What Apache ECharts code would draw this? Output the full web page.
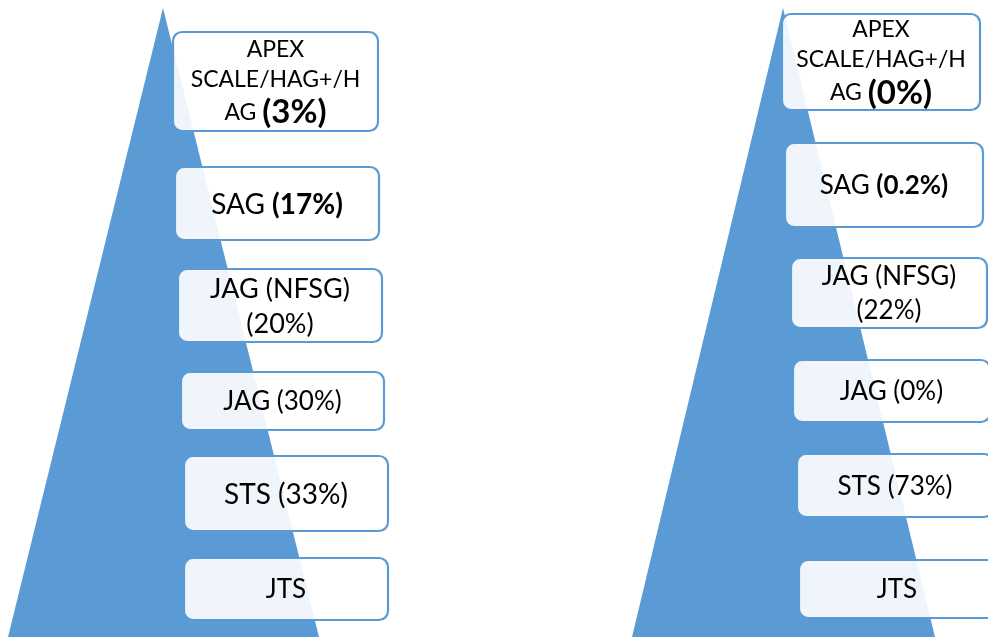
<!DOCTYPE html>
<html>
<head>
<meta charset="utf-8">
<script src="https://cdn.jsdelivr.net/npm/echarts@6/dist/echarts.min.js"></script>
<style>
  html, body { margin: 0; padding: 0; background: #fff; }
  #chart { width: 988px; height: 637px; }
</style>
</head>
<body>
<div id="chart"></div>
<script>
// tiers, top of the pyramid first
const tierNames = ['APEX\nSCALE/HAG+/H\nAG', 'SAG', 'JAG (NFSG)\n', 'JAG', 'STS', 'JTS'];
// share per tier, left pyramid and right pyramid (null = no figure shown)
const leftShares = [3, 17, 20, 30, 33, null];
const rightShares = [0, 0.2, 22, 0, 73, null];

// how the share is written in each tier
const shareStyle = ['big', 'bold', 'n', 'n', 'n', 'n'];
// text size per box (the boxes were auto-fitted)
const fontSizes = [
    [23, 28, 27, 26, 28, 26],
    [23, 26, 26, 26, 26, 26]
];

// layout in pixel units of the hidden axes
const pyramidLayout = [
    [[163, 8], [8, 637], [319, 637]],
    [[783, 8], [632, 637], [935, 637]]
];
const boxLayout = [
    [[173, 32, 378, 131], [175, 167, 379, 240], [178, 269, 382, 342],
     [181, 372, 384, 430], [184, 456, 388, 531], [184, 558, 388, 620]],
    [[782, 14, 980, 110], [785, 143, 983, 227], [791, 258, 987, 328],
     [793, 360, 990, 422], [797, 454, 993, 517], [799, 560, 995, 618]]
];

const BLUE = '#5b9bd5';
const FONT = 'Lato, "Open Sans", sans-serif';
const INK = '#242424';

function richFor(size) {
    return {
        n: { fontFamily: FONT, fontSize: size, color: INK, lineHeight: Math.round(size * 1.3) },
        bold: { fontFamily: FONT, fontSize: size, fontWeight: 'bold', color: INK, lineHeight: Math.round(size * 1.3) },
        big: { fontFamily: FONT, fontSize: 33, fontWeight: 'bold', color: INK, lineHeight: 36 }
    };
}

function tierLabel(tier, share) {
    const name = tierNames[tier];
    if (share === null) return '{n|' + name + '}';
    const txt = '(' + share + '%)';
    const lines = name.split('\n');
    const last = lines.pop();
    const head = lines.map(l => '{n|' + l + '}').join('\n');
    let tail;
    if (last === '') tail = '{' + shareStyle[tier] + '|' + txt + '}';
    else tail = '{n|' + last + ' }{' + shareStyle[tier] + '|' + txt + '}';
    return head ? head + '\n' + tail : tail;
}

const tierData = [];
[leftShares, rightShares].forEach((shares, side) => {
    shares.forEach((s, tier) => tierData.push([side, tier]));
});

const chart = echarts.init(document.getElementById('chart'));

chart.setOption({
    animation: false,
    grid: { left: 0, right: 0, top: 0, bottom: 0 },
    xAxis: { type: 'value', min: 0, max: 988, show: false },
    yAxis: { type: 'value', min: 0, max: 637, inverse: true, show: false },
    series: [
        {
            type: 'custom',
            name: 'pyramid',
            data: [[0], [1]],
            renderItem: function(params, api) {
                const pts = pyramidLayout[api.value(0)].map(p => api.coord(p));
                return {
                    type: 'polygon',
                    shape: { points: pts },
                    style: { fill: BLUE }
                };
            }
        },
        {
            type: 'custom',
            name: 'tiers',
            data: tierData,
            z: 3,
            renderItem: function(params, api) {
                const side = api.value(0);
                const tier = api.value(1);
                const b = boxLayout[side][tier];
                const p0 = api.coord([b[0], b[1]]);
                const p1 = api.coord([b[2], b[3]]);
                const share = (side === 0 ? leftShares : rightShares)[tier];
                return {
                    type: 'group',
                    children: [
                        {
                            type: 'rect',
                            shape: { x: p0[0], y: p0[1], width: p1[0] - p0[0], height: p1[1] - p0[1], r: 9 },
                            style: { fill: 'rgba(255,255,255,0.9)', stroke: BLUE, lineWidth: 2.2 }
                        },
                        {
                            type: 'text',
                            x: (p0[0] + p1[0]) / 2,
                            y: (p0[1] + p1[1]) / 2 + 1,
                            style: {
                                text: tierLabel(tier, share),
                                rich: richFor(fontSizes[side][tier]),
                                align: 'center',
                                verticalAlign: 'middle'
                            }
                        }
                    ]
                };
            }
        }
    ]
});
</script>
</body>
</html>
